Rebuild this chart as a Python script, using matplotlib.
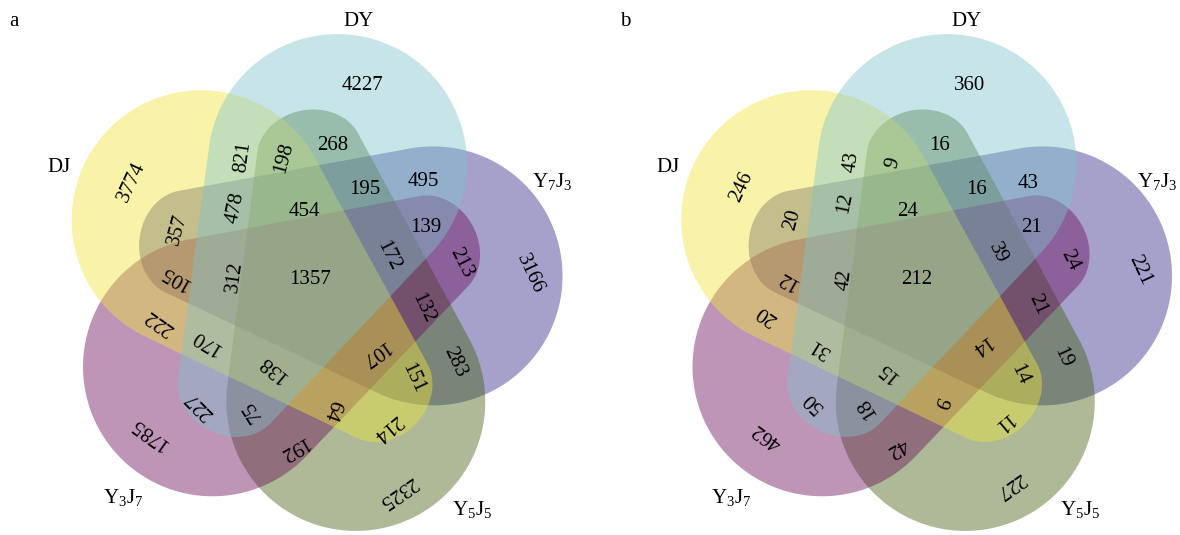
import numpy as np
import matplotlib
matplotlib.use("Agg")
import matplotlib.pyplot as plt
from matplotlib.patches import Polygon

plt.rcParams['font.family'] = ['Liberation Serif', 'DejaVu Serif']
plt.rcParams['mathtext.fontset'] = 'custom'
plt.rcParams['mathtext.rm'] = 'Liberation Serif'
plt.rcParams['mathtext.it'] = 'Liberation Serif:italic'

# ---------------- data ----------------
set_names = ['DJ', 'DY', 'Y7J3', 'Y5J5', 'Y3J7']
set_labels = ['DJ', 'DY', r'Y$_{\mathrm{7}}$J$_{\mathrm{3}}$',
              r'Y$_{\mathrm{5}}$J$_{\mathrm{5}}$', r'Y$_{\mathrm{3}}$J$_{\mathrm{7}}$']
# apparent colour of each set's exclusive region (over white)
single_colors = [(248, 244, 170), (200, 229, 233), (166, 162, 204),
                 (174, 187, 152), (192, 150, 184)]
ALPHA = 0.43
draw_order = [2, 3, 4, 0, 1]   # Y7J3, Y5J5, Y3J7, DJ, DY (bottom -> top)

regions = ['DY', 'DJ', 'Y7J3', 'Y5J5', 'Y3J7', 'ALL',
           'DJ&DY', 'DJ&DY&Y5J5', 'DY&Y5J5', 'DY&Y7J3&Y5J5', 'DY&Y7J3',
           'DY&Y7J3&Y3J7', 'Y7J3&Y3J7', 'Y7J3&Y3J7&Y5J5', 'Y7J3&Y5J5',
           'DJ&Y7J3&Y5J5', 'DJ&Y5J5', 'DJ&Y5J5&Y3J7', 'Y5J5&Y3J7',
           'DY&Y5J5&Y3J7', 'DY&Y3J7', 'DJ&DY&Y3J7', 'DJ&Y3J7',
           'DJ&Y7J3&Y3J7', 'DJ&Y7J3', 'DJ&DY&Y7J3', 'DJ&DY&Y7J3&Y5J5',
           'DY&Y7J3&Y5J5&Y3J7', 'DJ&Y7J3&Y5J5&Y3J7', 'DJ&DY&Y5J5&Y3J7',
           'DJ&DY&Y7J3&Y3J7']
counts_a = [4227, 3774, 3166, 2325, 1785, 1357,
            821, 198, 268, 195, 495,
            139, 213, 132, 283,
            151, 214, 64, 192,
            75, 227, 170, 222,
            105, 357, 478, 454,
            172, 107, 138,
            312]
counts_b = [360, 246, 221, 227, 462, 212,
            43, 9, 16, 16, 43,
            21, 24, 21, 19,
            14, 11, 9, 42,
            18, 50, 31, 20,
            12, 20, 12, 24,
            39, 14, 15,
            42]

# ---------------- layout ----------------
W, H = 1180, 535
centers = [(308.0, 285.5), (917.5, 285.5)]
big_off = np.array([-106.8, -65.7])
small_off = np.array([76.0, 107.6])
R_big = 129.5
tip_along, tip_across = 44.0, 53.0

pos_a = [(362, 85), (132, 182), (530, 274), (398, 492), (150, 433), (310, 279),
         (243, 157), (284, 158), (333, 145), (365, 189), (423, 182),
         (426, 227), (461, 263), (423, 308), (455, 362),
         (413, 378), (387, 427), (332, 410), (293, 448),
         (252, 410), (200, 405), (207, 342), (160, 322),
         (175, 277), (178, 230), (235, 208), (304, 211),
         (388, 256), (374, 353), (273, 368),
         (235, 277)]
pos_b = [(970, 85), (742, 187), (1140, 270), (1010, 485), (767, 435), (917, 280),
         (852, 162), (893, 163), (940, 145), (977, 190), (1028, 183),
         (1032, 228), (1070, 260), (1038, 305), (1063, 358),
         (1020, 375), (1002, 422), (940, 402), (897, 447),
         (867, 408), (813, 402), (820, 347), (767, 315),
         (788, 280), (792, 220), (845, 203), (908, 212),
         (998, 253), (980, 345), (888, 372),
         (845, 280)]
rot = [0, 65, -65, -145, 144, 0,
       82, 75, 0, 0, 0,
       0, -63, -65, -65,
       -65, -140, -110, -150,
       122, 135, 148, 145,
       150, 75, 78, 0,
       -63, -145, 140,
       82]

label_pos_a = [(59, 167), (358, 22), (552, 182), (472, 509), (123, 497)]
label_pos_b = [(668, 167), (967, 22), (1157, 182), (1080, 510), (731, 497)]
panel_letters = ['a', 'b']
panel_letter_pos = [(14, 22), (625, 22)]


def face_color(c):
    f = (np.array(c, float) - (1 - ALPHA) * 255) / ALPHA
    return tuple(np.clip(f, 0, 255) / 255)


def rotmat(deg):
    t = np.deg2rad(deg)
    return np.array([[np.cos(t), -np.sin(t)], [np.sin(t), np.cos(t)]])


def hull(points):
    pts = sorted(map(tuple, points))

    def cross(o, a, b):
        return (a[0] - o[0]) * (b[1] - o[1]) - (a[1] - o[1]) * (b[0] - o[0])
    lower, upper = [], []
    for p in pts:
        while len(lower) >= 2 and cross(lower[-2], lower[-1], p) <= 0:
            lower.pop()
        lower.append(p)
    for p in reversed(pts):
        while len(upper) >= 2 and cross(upper[-2], upper[-1], p) <= 0:
            upper.pop()
        upper.append(p)
    return np.array(lower[:-1] + upper[:-1])


def egg(p1, p2, r1, ta, tc, n=360):
    t = np.linspace(0, 2 * np.pi, n, endpoint=False)
    big = p1 + r1 * np.c_[np.cos(t), np.sin(t)]
    u = (p2 - p1) / np.hypot(*(p2 - p1))
    v = np.array([-u[1], u[0]])
    small = p2 + np.outer(ta * np.cos(t), u) + np.outer(tc * np.sin(t), v)
    return hull(np.vstack([big, small]))


fig = plt.figure(figsize=(W / 100, H / 100), dpi=100)
ax = fig.add_axes([0, 0, 1, 1])
ax.set_xlim(0, W)
ax.set_ylim(H, 0)
ax.set_aspect('equal')
ax.axis('off')

for pi, (cx, cy) in enumerate(centers):
    c = np.array([cx, cy])
    for k in draw_order:
        R = rotmat(72 * k)
        p1 = c + R @ big_off
        p2 = c + R @ small_off
        pts = egg(p1, p2, R_big, tip_along, tip_across)
        ax.add_patch(Polygon(pts, closed=True,
                             facecolor=face_color(single_colors[k]),
                             edgecolor='none', alpha=ALPHA))
    counts = counts_a if pi == 0 else counts_b
    pos = pos_a if pi == 0 else pos_b
    for v, (x, y), r in zip(counts, pos, rot):
        ax.text(x, y, str(v), rotation=r, ha='center', va='center',
                fontsize=15, rotation_mode='anchor')
    lpos = label_pos_a if pi == 0 else label_pos_b
    for lab, (x, y) in zip(set_labels, lpos):
        ax.text(x, y, lab, ha='center', va='center', fontsize=15)
    ax.text(*panel_letter_pos[pi], panel_letters[pi], ha='center',
            va='center', fontsize=15)

fig.savefig('out.png', dpi=100)
